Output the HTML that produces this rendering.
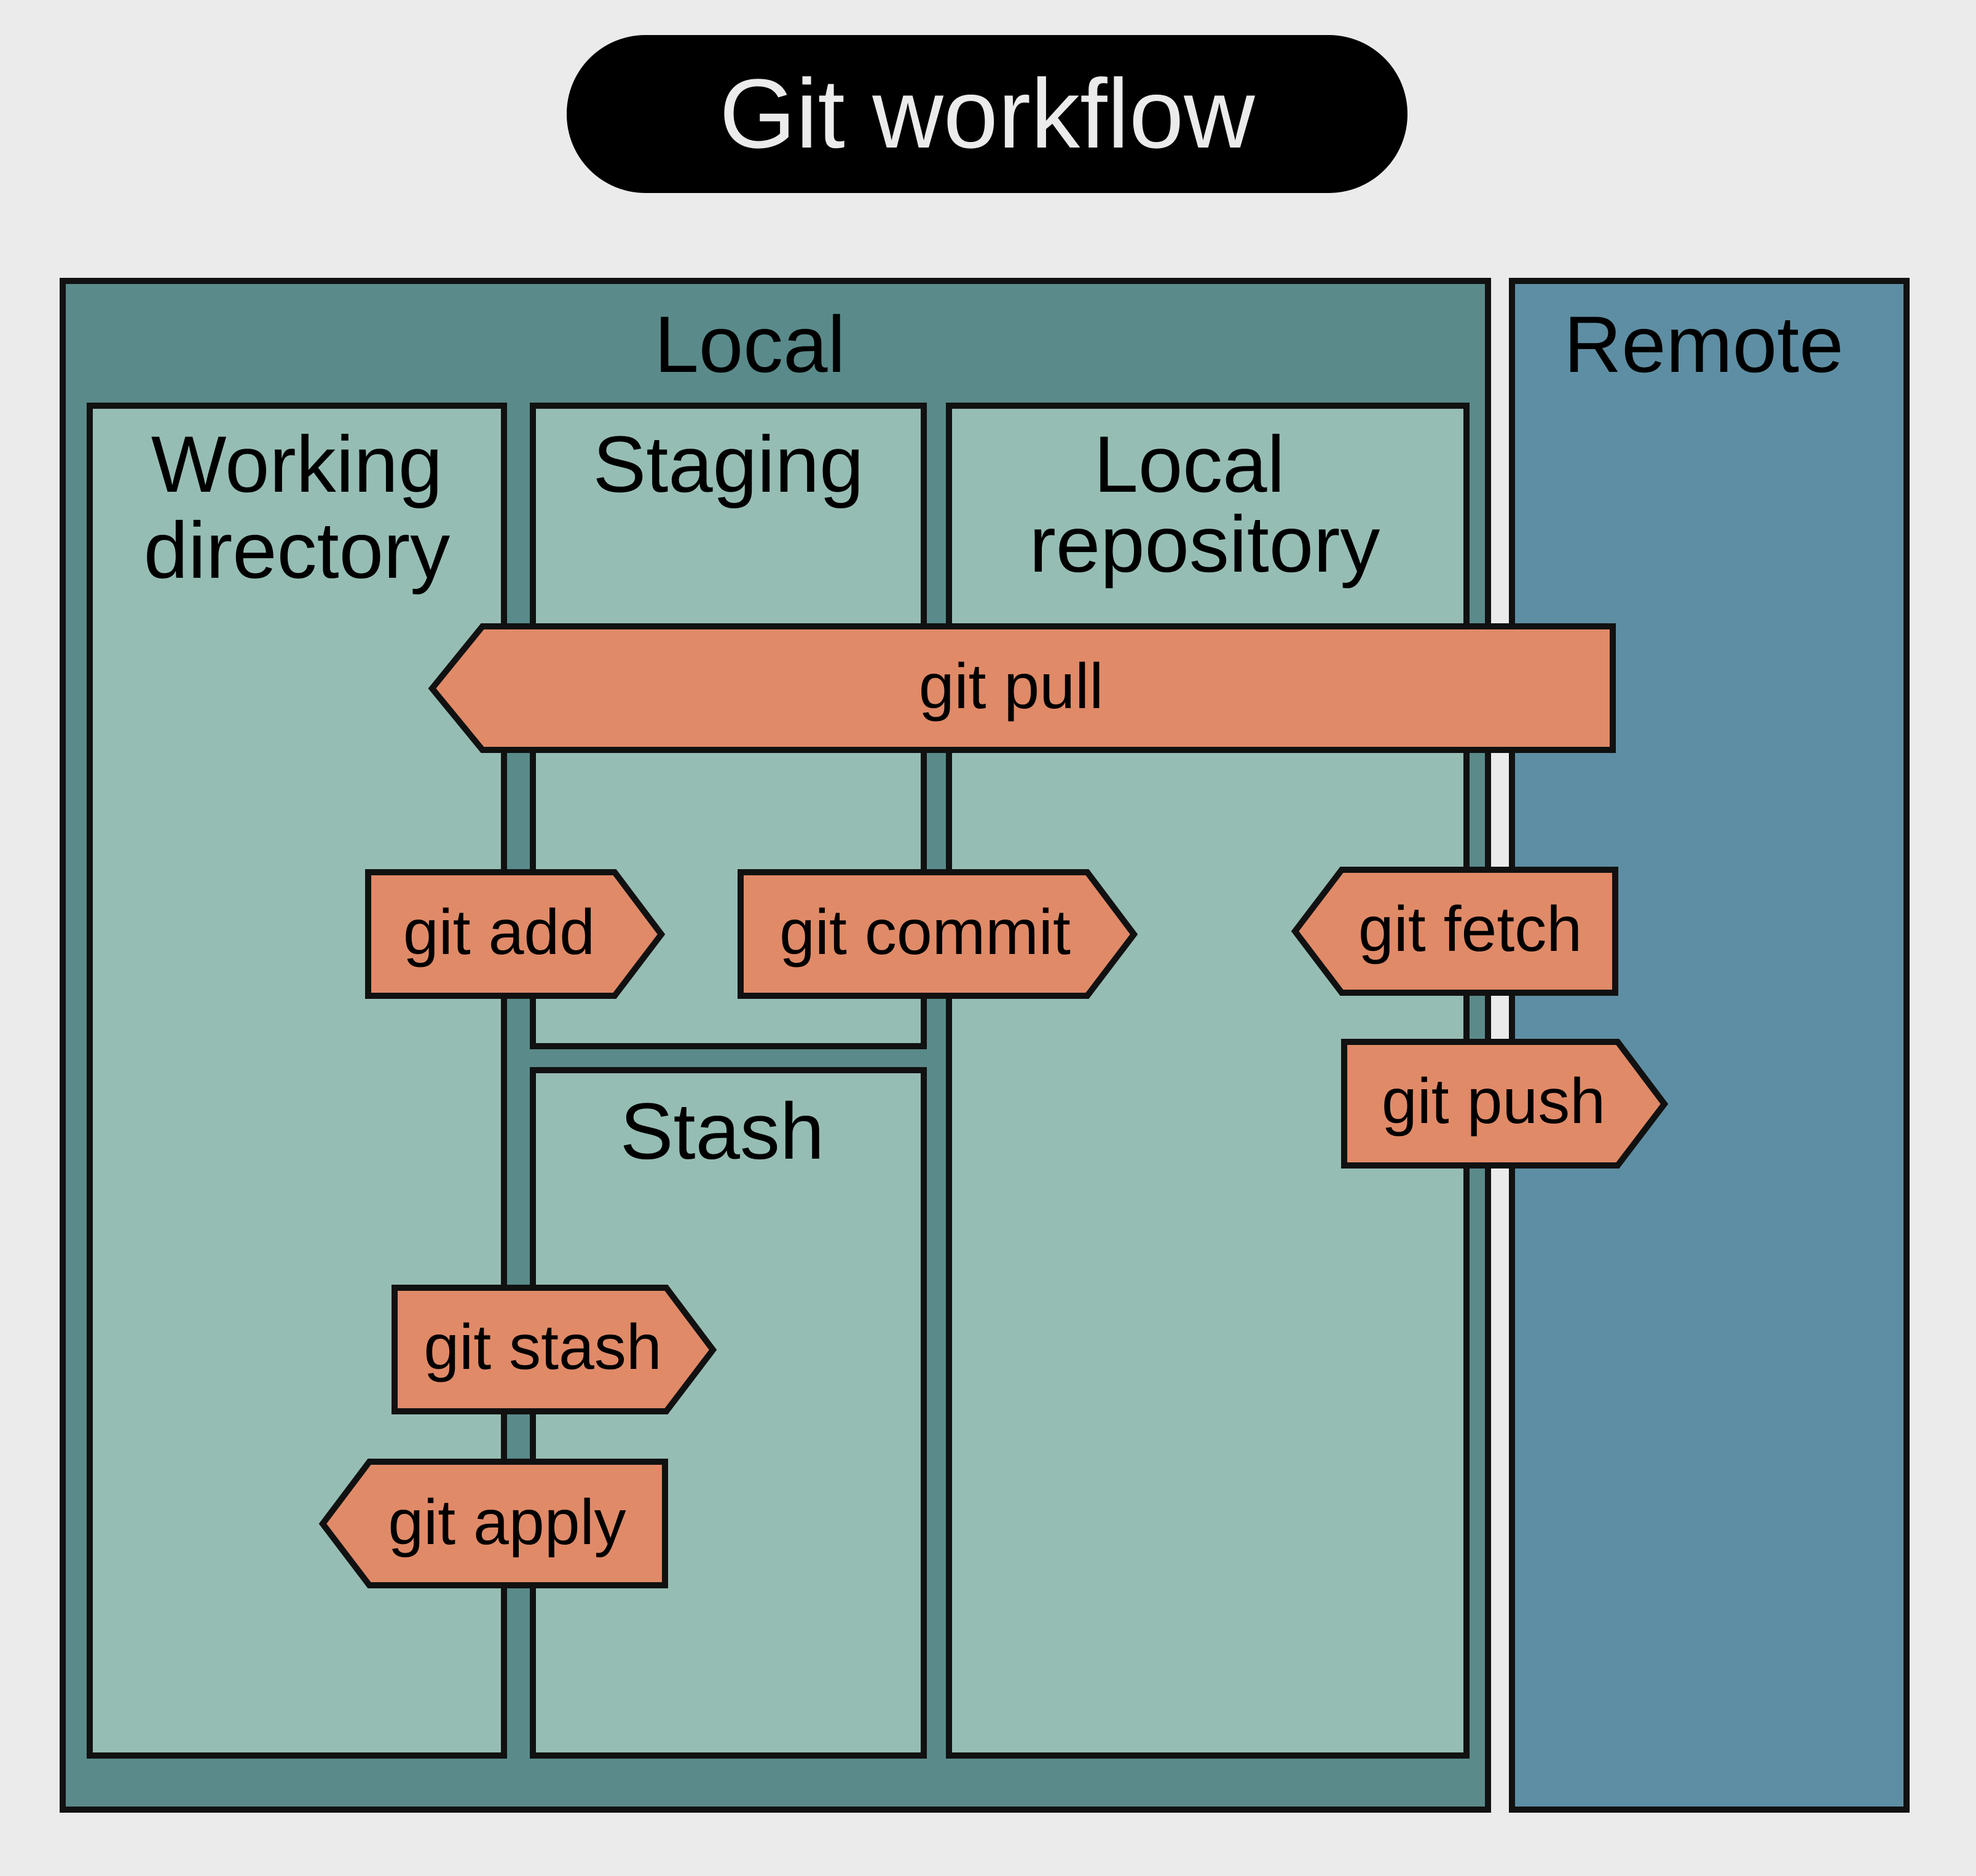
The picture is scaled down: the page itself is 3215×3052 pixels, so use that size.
<!DOCTYPE html>
<html><head><style>
html,body{margin:0;padding:0;background:#ebebeb;}
svg{display:block;}
text{font-family:"Liberation Sans",sans-serif;}
</style></head><body>
<svg width="3215" height="3052" viewBox="0 0 3215 3052" xmlns="http://www.w3.org/2000/svg">
<rect width="3215" height="3052" fill="#ebebeb"/>
<rect x="922" y="57" width="1368" height="257" rx="128" fill="#000"/>
<text x="1606" y="240" font-size="160" fill="#ebebeb" text-anchor="middle">Git workflow</text>

<g stroke="#111" stroke-width="10">
<rect x="102" y="457" width="2319" height="2487" fill="#5a8a8a"/>
<rect x="2460" y="457" width="642" height="2487" fill="#5e8ea3"/>
<rect x="146" y="660" width="674" height="2196" fill="#96bdb4"/>
<rect x="867" y="660" width="636" height="1042" fill="#96bdb4"/>
<rect x="867" y="1741" width="636" height="1115" fill="#96bdb4"/>
<rect x="1544" y="660" width="842" height="2196" fill="#96bdb4"/>
</g>
<g font-size="130" fill="#000" text-anchor="middle">
<text x="1220" y="605">Local</text>
<text x="2772" y="605">Remote</text>
<text x="483" y="800">Working</text>
<text x="483" y="940">directory</text>
<text x="1185" y="800">Staging</text>
<text x="1935" y="800">Local</text>
<text x="1960" y="930">repository</text>
<text x="1175" y="1885">Stash</text>
</g>

<g stroke="#111" stroke-width="10" fill="#e08a68">
<polygon points="703,1120 785,1019 2624,1019 2624,1220 785,1220"/>
<polygon points="599,1419 1000,1419 1076,1520 1000,1620 599,1620"/>
<polygon points="1205,1419 1769,1419 1845,1520 1769,1620 1205,1620"/>
<polygon points="2107,1515 2183,1415 2628,1415 2628,1615 2183,1615"/>
<polygon points="2187,1695 2632,1695 2708,1796 2632,1896 2187,1896"/>
<polygon points="642,2095 1084,2095 1160,2196 1084,2296 642,2296"/>
<polygon points="525,2479 601,2378 1082,2378 1082,2579 601,2579"/>
</g>
<g font-size="104" fill="#000" text-anchor="middle">
<text x="1645" y="1152">git pull</text>
<text x="812" y="1552">git add</text>
<text x="1505" y="1552">git commit</text>
<text x="2392" y="1547">git fetch</text>
<text x="2430" y="1827">git push</text>
<text x="883" y="2227">git stash</text>
<text x="825" y="2512">git apply</text>
</g>
</svg>
</body></html>
